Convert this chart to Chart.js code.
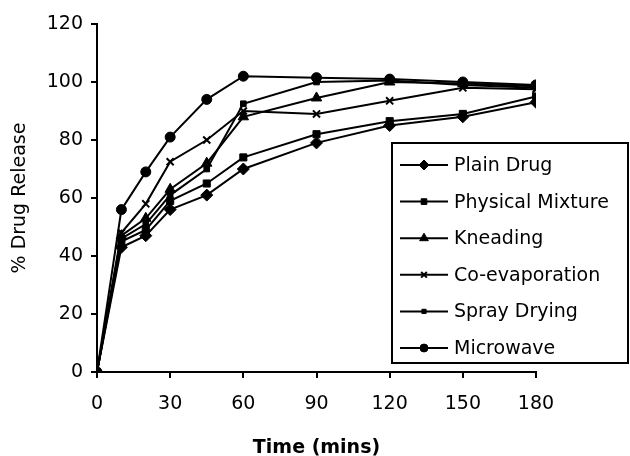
<!DOCTYPE html>
<html>
<head>
<meta charset="utf-8">
<style>
  html, body { margin: 0; padding: 0; background: #fff; }
  #wrap { width: 630px; height: 456px; }
</style>
<script src="https://cdn.jsdelivr.net/npm/chart.js@4/dist/chart.umd.min.js"></script>
</head>
<body>
<div id="wrap"><canvas id="c" width="630" height="456"></canvas></div>
<script>
// ── Data ────────────────────────────────────────────────────────────────────
const times        = [0, 10, 20, 30, 45, 60, 90, 120, 150, 180];
const plainDrug    = [0, 43, 47, 56, 61, 70, 79, 85, 88, 93];
const physicalMix  = [0, 45, 49, 59, 65, 74, 82, 86.5, 89, 95];
const kneading     = [0, 47, 53, 63, 72, 88, 94.5, 100, 99.5, 98.5];
const coEvap       = [0, 48, 58, 72.5, 80, 90, 89, 93.5, 98, 97.5];
const sprayDrying  = [0, 46, 51, 61, 70, 92.5, 100, 100.5, 99, 98];
const microwave    = [0, 56, 69, 81, 94, 102, 101.5, 101, 100, 99];

const xTicks = [0, 30, 60, 90, 120, 150, 180];
const yTicks = [0, 20, 40, 60, 80, 100, 120];

const FONT = "'DejaVu Sans', sans-serif";

// turn a y-array into {x,y} points on the shared time axis
function pts(values) {
  return values.map((v, i) => ({ x: times[i], y: v }));
}

function series(label, values, style, radius) {
  return {
    label,
    data: pts(values),
    borderColor: "#000",
    backgroundColor: "#000",
    borderWidth: 2,
    pointStyle: style,
    pointRadius: radius,
    pointBorderWidth: style === "crossRot" ? 2 : 1,
    pointBorderColor: "#000",
    pointBackgroundColor: "#000",
    tension: 0,
  };
}

// ── Legend box drawn over the plot (like the Excel original) ────────────────
const boxLegend = {
  id: "boxLegend",
  afterDraw(chart) {
    const ctx = chart.ctx;
    const left = 392, top = 143, right = 628, bottom = 363;
    ctx.save();
    ctx.fillStyle = "#fff";
    ctx.fillRect(left, top, right - left, bottom - top);
    ctx.strokeStyle = "#000";
    ctx.lineWidth = 2;
    ctx.strokeRect(left, top, right - left, bottom - top);

    chart.data.datasets.forEach((ds, i) => {
      const y = 165 + i * 36.6;
      ctx.strokeStyle = "#000";
      ctx.fillStyle = "#000";
      ctx.lineWidth = 2;
      ctx.beginPath();
      ctx.moveTo(400, y);
      ctx.lineTo(448, y);
      ctx.stroke();
      ctx.lineWidth = ds.pointBorderWidth;
      Chart.helpers.drawPoint(ctx, {
        pointStyle: ds.pointStyle,
        radius: Math.max(3, ds.pointRadius - 1),
        rotation: 0,
        borderWidth: ds.pointBorderWidth,
      }, 424, y);
      ctx.fillStyle = "#000";
      ctx.font = "19px " + FONT;
      ctx.textAlign = "left";
      ctx.textBaseline = "middle";
      ctx.fillText(ds.label, 454, y + 1);
    });
    ctx.restore();
  },
};

new Chart(document.getElementById("c"), {
  type: "line",
  data: {
    datasets: [
      series("Plain Drug",       plainDrug,   "rectRot",  6),
      series("Physical Mixture", physicalMix, "rect",     5),
      series("Kneading",         kneading,    "triangle", 6),
      series("Co-evaporation",   coEvap,      "crossRot", 5),
      series("Spray Drying",     sprayDrying, "rect",     4),
      series("Microwave",        microwave,   "circle",   5),
    ],
  },
  options: {
    responsive: false,
    animation: false,
    layout: { padding: { top: 24, right: 94, left: 0, bottom: 0 } },
    plugins: { legend: { display: false }, tooltip: { enabled: false } },
    scales: {
      x: {
        type: "linear",
        min: 0,
        max: 180,
        afterBuildTicks: (s) => { s.ticks = xTicks.map(v => ({ value: v })); },
        afterFit: (s) => { s.height = 84; },
        ticks: { color: "#000", font: { family: FONT, size: 19 }, padding: 15, maxRotation: 0 },
        grid: { drawOnChartArea: false, drawTicks: true, tickLength: 6, color: "#000", lineWidth: 2 },
        border: { display: true, color: "#000", width: 2 },
        title: {
          display: true,
          text: "Time (mins)",
          color: "#000",
          font: { family: FONT, size: 19, weight: "bold" },
          padding: { top: 0, bottom: -3 },
        },
      },
      y: {
        min: 0,
        max: 120,
        afterBuildTicks: (s) => { s.ticks = yTicks.map(v => ({ value: v })); },
        afterFit: (s) => { s.width = 97; },
        ticks: { color: "#000", font: { family: FONT, size: 19 }, padding: 8 },
        grid: { drawOnChartArea: false, drawTicks: true, tickLength: 6, color: "#000", lineWidth: 2 },
        border: { display: true, color: "#000", width: 2 },
        title: {
          display: true,
          text: "% Drug Release",
          color: "#000",
          font: { family: FONT, size: 19 },
          padding: { top: 9, bottom: 0 },
        },
      },
    },
  },
  plugins: [boxLegend],
});
</script>
</body>
</html>
